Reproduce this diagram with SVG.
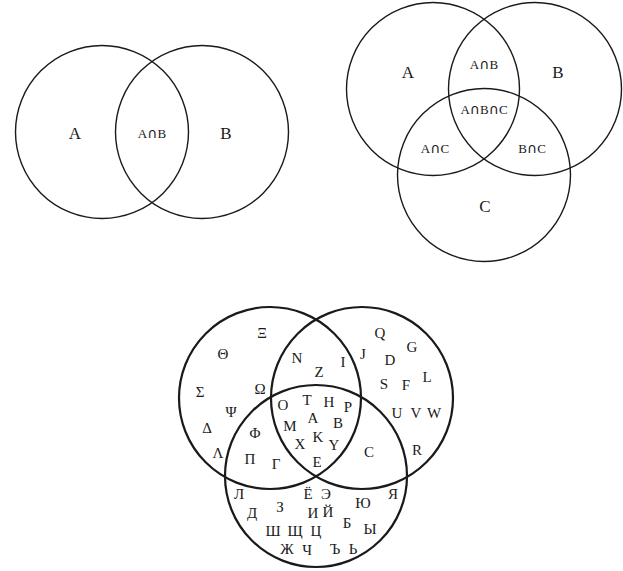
<svg xmlns="http://www.w3.org/2000/svg" width="623" height="571" viewBox="0 0 623 571">
<style>
.c1{fill:none;stroke:#1a1a1a;stroke-width:1.4}
.c3{fill:none;stroke:#1a1a1a;stroke-width:2.2}
text{font-family:"Liberation Serif","DejaVu Serif",serif;fill:#1a1a1a;text-anchor:middle}
.big{font-size:17px}
.mid{font-size:13px}
.cap{font-family:"DejaVu Sans",sans-serif;font-size:14px}
.let{font-size:15px}
</style>
<rect width="623" height="571" fill="#fff"/>
<g id="venn2">
  <g id="v2-circles">
    <circle class="c1" cx="102" cy="132" r="86.5"/>
    <circle class="c1" cx="202" cy="132" r="86.5"/>
  </g>
  <text class="big" x="75" y="139">A</text>
  <text class="mid" x="152" y="138">A<tspan class="cap">∩</tspan>B</text>
  <text class="big" x="226" y="139">B</text>
</g>
<g id="venn3">
  <g id="v3-circles">
    <circle class="c1" cx="433" cy="89" r="86.5"/>
    <circle class="c1" cx="535" cy="89" r="86.5"/>
    <circle class="c1" cx="484" cy="175" r="86.5"/>
  </g>
  <text class="big" x="408" y="78">A</text>
  <text class="big" x="558" y="78">B</text>
  <text class="mid" x="484" y="69">A<tspan class="cap">∩</tspan>B</text>
  <text class="mid" x="484" y="114">A<tspan class="cap">∩</tspan>B<tspan class="cap">∩</tspan>C</text>
  <text class="mid" x="435" y="153">A<tspan class="cap">∩</tspan>C</text>
  <text class="mid" x="532" y="153">B<tspan class="cap">∩</tspan>C</text>
  <text class="big" x="485" y="212">C</text>
</g>
<g id="venn-alphabets">
  <g id="alpha-circles">
    <circle class="c3" cx="270" cy="398" r="91"/>
    <circle class="c3" cx="362" cy="398" r="91"/>
    <circle class="c3" cx="316" cy="476" r="91"/>
  </g>
  <g class="let">
    <text x="262" y="338">Ξ</text>
    <text x="223" y="359">Θ</text>
    <text x="297" y="363">N</text>
    <text x="319" y="377">Z</text>
    <text x="343" y="367">I</text>
    <text x="363" y="359">J</text>
    <text x="380" y="338">Q</text>
    <text x="412" y="352">G</text>
    <text x="390" y="365">D</text>
    <text x="427" y="382">L</text>
    <text x="384" y="389">S</text>
    <text x="406" y="390">F</text>
    <text x="200" y="397">Σ</text>
    <text x="260" y="394">Ω</text>
    <text x="231" y="417">Ψ</text>
    <text x="283" y="410">O</text>
    <text x="307" y="405">T</text>
    <text x="329" y="407">H</text>
    <text x="348" y="412">P</text>
    <text x="207" y="433">Δ</text>
    <text x="290" y="431">M</text>
    <text x="313" y="423">A</text>
    <text x="338" y="428">B</text>
    <text x="397" y="418">U</text>
    <text x="416" y="418">V</text>
    <text x="434" y="418">W</text>
    <text x="255" y="438">Φ</text>
    <text x="300" y="449">X</text>
    <text x="318" y="442">K</text>
    <text x="334" y="450">Y</text>
    <text x="218" y="458">Λ</text>
    <text x="250" y="464">Π</text>
    <text x="276" y="469">Γ</text>
    <text x="317" y="467">E</text>
    <text x="369" y="457">C</text>
    <text x="417" y="455">R</text>
    <text x="239" y="499">Л</text>
    <text x="308" y="499">Ё</text>
    <text x="326" y="499">Э</text>
    <text x="363" y="508">Ю</text>
    <text x="393" y="499">Я</text>
    <text x="252" y="518">Д</text>
    <text x="280" y="512">З</text>
    <text x="313" y="518">И</text>
    <text x="328" y="517">Й</text>
    <text x="347" y="528">Б</text>
    <text x="370" y="534">Ы</text>
    <text x="273" y="536">Ш</text>
    <text x="295" y="536">Щ</text>
    <text x="316" y="536">Ц</text>
    <text x="287" y="554">Ж</text>
    <text x="307" y="555">Ч</text>
    <text x="335" y="554">Ъ</text>
    <text x="353" y="554">Ь</text>
  </g>
</g>
</svg>
